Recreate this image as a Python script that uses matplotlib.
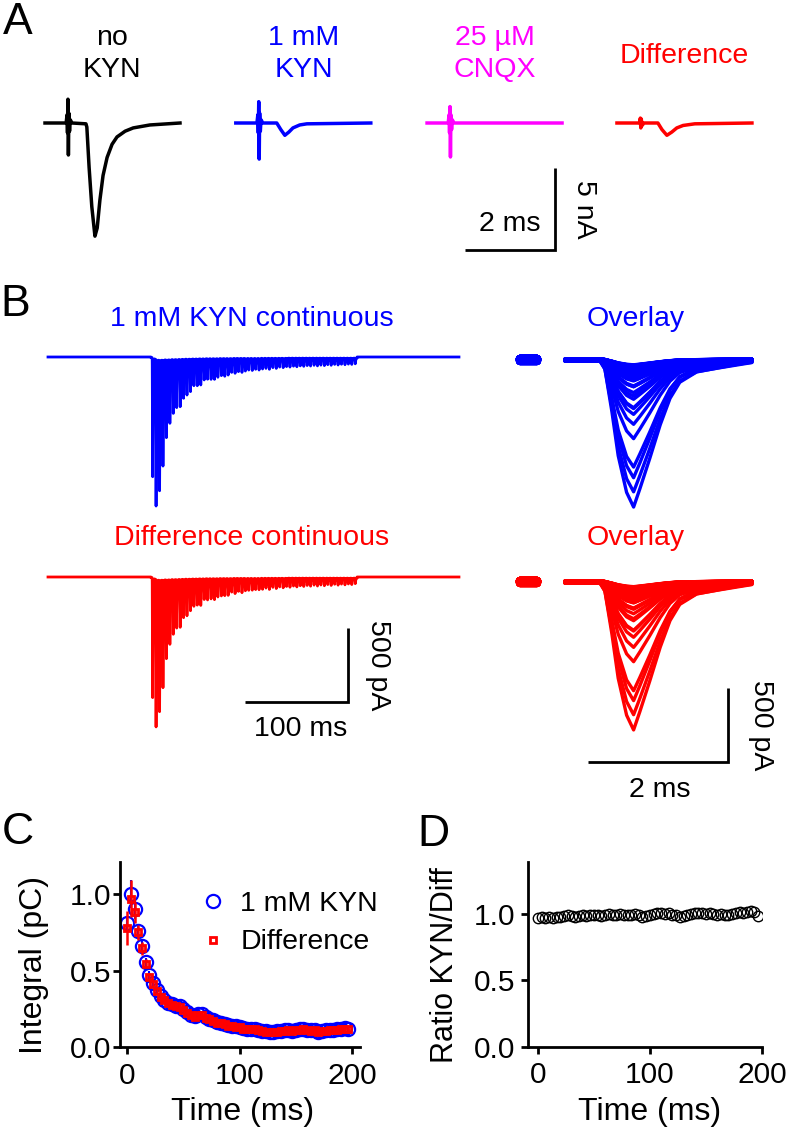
import numpy as np
import matplotlib
matplotlib.use('Agg')
import matplotlib.pyplot as plt
from matplotlib.lines import Line2D

plt.rcParams['font.family'] = ['Liberation Sans', 'DejaVu Sans']

W, H = 790, 1137
BLUE = '#0000ff'
RED = '#ff0000'
MAGENTA = '#ff00ff'

# ---------------------------------------------------------------
# Data
# ---------------------------------------------------------------

# A - single EPSCs, time from sweep start (ms), current (nA)
a_t_ctrl = [0.0, 0.47, 0.49, 0.5, 0.51, 0.52, 0.53, 0.545, 0.56, 0.6, 0.91, 0.93,
            0.98, 1.04, 1.11, 1.16, 1.22, 1.29, 1.38, 1.49, 1.6, 1.78, 1.96, 2.33, 3.0]
a_i_ctrl = [0.0, 0.0, 0.5, -0.6, 1.45, -1.95, 0.6, -0.5, 0.2, 0.0, -0.05, -0.25,
            -2.7, -5.1, -6.9, -6.4, -4.7, -3.2, -2.1, -1.3, -0.85, -0.5, -0.3, -0.12, 0.0]

a_t_kyn = [0.0, 0.47, 0.49, 0.5, 0.51, 0.52, 0.53, 0.545, 0.56, 0.6, 0.91, 1.0,
           1.09, 1.18, 1.27, 1.42, 1.58, 3.0]
a_i_kyn = [0.0, 0.0, 0.5, -0.6, 1.3, -2.2, 0.6, -0.5, 0.2, 0.0, 0.0, -0.4,
           -0.75, -0.55, -0.3, -0.12, -0.05, 0.0]

a_t_cnqx = [0.0, 0.47, 0.49, 0.5, 0.51, 0.52, 0.53, 0.545, 0.56, 0.6, 3.0]
a_i_cnqx = [0.0, 0.0, 0.5, -0.6, 1.0, -2.07, 0.5, -0.4, 0.2, 0.0, 0.0]

a_t_diff = [0.0, 0.5, 0.52, 0.53, 0.54, 0.56, 0.6, 0.91, 1.0, 1.11, 1.22, 1.33,
            1.47, 1.73, 3.0]
a_i_diff = [0.0, 0.0, 0.3, -0.3, 0.25, -0.15, 0.0, 0.0, -0.4, -0.75, -0.55, -0.3,
            -0.15, -0.05, 0.0]

a_titles = [['no', 'KYN'], ['1 mM', 'KYN'], ['25 \u00b5M', 'CNQX'], ['Difference']]
a_colors = ['black', BLUE, MAGENTA, RED]

# B - normalised EPSC waveform of the overlay (ms from end of blanked artifact)
pre_t = [-0.64, -0.40]
epsc_t = [0.0, 0.5, 0.57, 0.67, 0.76, 0.88, 0.98, 1.07, 1.21, 1.36, 1.5, 1.64,
          1.88, 2.21, 2.67]
epsc_shape = [0.0, 0.0, 0.06, 0.35, 0.65, 0.9, 1.0, 0.875, 0.67, 0.44, 0.26,
              0.15, 0.08, 0.05, 0.01]

# pulse times within the 300 Hz train (ms)
pulse_times_ms = [0.0, 3.3, 6.7, 10.0, 13.3, 16.7, 20.0, 23.3, 26.7, 30.0,
                  33.3, 36.7, 40.0, 43.3, 46.7, 50.0, 53.3, 56.7, 60.0, 63.3,
                  66.7, 70.0, 73.3, 76.7, 80.0, 83.3, 86.7, 90.0, 93.3, 96.7,
                  100.0, 103.3, 106.7, 110.0, 113.3, 116.7, 120.0, 123.3, 126.7, 130.0,
                  133.3, 136.7, 140.0, 143.3, 146.7, 150.0, 153.3, 156.7, 160.0, 163.3,
                  166.7, 170.0, 173.3, 176.7, 180.0, 183.3, 186.7, 190.0, 193.3, 196.7]

# EPSC peak amplitudes (pA) of each pulse
kyn_amp_pA = [809, 1007, 904, 737, 545, 448, 381, 342, 336, 279,
              257, 234, 194, 194, 189, 155, 150, 151, 151, 137,
              126, 130, 122, 104, 110, 99, 104, 95, 88, 91,
              83, 88, 81, 77, 83, 72, 77, 68, 72, 65,
              68, 62, 66, 60, 63, 58, 61, 56, 60, 55,
              58, 52, 56, 50, 54, 49, 52, 48, 50, 46]
diff_amp_pA = [815, 1013, 910, 748, 552, 455, 387, 345, 340, 275,
               262, 228, 198, 190, 192, 152, 155, 148, 153, 135,
               128, 126, 124, 102, 112, 97, 106, 93, 90, 89,
               85, 86, 83, 75, 84, 70, 78, 67, 73, 64,
               69, 61, 67, 59, 64, 57, 62, 55, 61, 54,
               59, 51, 57, 49, 55, 48, 53, 47, 51, 45]
# sustained inward current between pulses (pA)
tonic_pA = [5, 15, 22, 22, 20, 20, 18, 18, 17, 16,
            15, 15, 14, 14, 13, 13, 12, 12, 12, 12,
            11, 11, 11, 11, 10, 10, 10, 10, 10, 10,
            10, 10, 9, 9, 9, 9, 9, 9, 9, 9,
            8, 8, 8, 8, 8, 8, 8, 8, 8, 8,
            8, 8, 8, 8, 8, 8, 8, 8, 8, 8]

train_start_ms = 100.0
train_end_ms = 300.0
sweep_end_ms = 399.0

# C - charge integral per pulse (pC)
kyn_int = [0.81, 1.0, 0.90, 0.76, 0.66, 0.555, 0.47, 0.42, 0.37, 0.335,
           0.31, 0.29, 0.28, 0.27, 0.265, 0.25, 0.23, 0.21, 0.20, 0.215,
           0.215, 0.195, 0.18, 0.175, 0.165, 0.155, 0.15, 0.145, 0.14, 0.135,
           0.13, 0.125, 0.12, 0.12, 0.115, 0.11, 0.105, 0.105, 0.10, 0.10,
           0.105, 0.105, 0.11, 0.11, 0.105, 0.11, 0.115, 0.115, 0.11, 0.11,
           0.11, 0.10, 0.105, 0.11, 0.11, 0.11, 0.115, 0.115, 0.125, 0.115]
kyn_err = [0.04, 0.09, 0.06, 0.04, 0.035, 0.03, 0.025, 0.02, 0.02, 0.02,
           0.015, 0.015, 0.015, 0.015, 0.015, 0.012, 0.012, 0.012, 0.012, 0.012,
           0.01, 0.01, 0.01, 0.01, 0.01, 0.01, 0.01, 0.01, 0.01, 0.01,
           0.01, 0.01, 0.01, 0.01, 0.01, 0.01, 0.01, 0.01, 0.01, 0.01,
           0.01, 0.01, 0.01, 0.01, 0.01, 0.01, 0.01, 0.01, 0.01, 0.01,
           0.01, 0.01, 0.01, 0.01, 0.01, 0.01, 0.01, 0.01, 0.01, 0.01]
diff_int = [0.78, 0.97, 0.88, 0.75, 0.645, 0.545, 0.46, 0.41, 0.365, 0.33,
            0.305, 0.29, 0.275, 0.265, 0.26, 0.245, 0.225, 0.21, 0.195, 0.21,
            0.21, 0.19, 0.18, 0.17, 0.16, 0.155, 0.15, 0.14, 0.14, 0.13,
            0.13, 0.12, 0.12, 0.115, 0.115, 0.11, 0.105, 0.10, 0.10, 0.10,
            0.10, 0.105, 0.105, 0.11, 0.105, 0.11, 0.11, 0.115, 0.11, 0.105,
            0.11, 0.10, 0.105, 0.105, 0.11, 0.11, 0.11, 0.115, 0.12, 0.115]
diff_err = [0.11, 0.12, 0.07, 0.05, 0.04, 0.03, 0.025, 0.02, 0.02, 0.02,
            0.015, 0.015, 0.015, 0.015, 0.015, 0.012, 0.012, 0.012, 0.012, 0.012,
            0.01, 0.01, 0.01, 0.01, 0.01, 0.01, 0.01, 0.01, 0.01, 0.01,
            0.01, 0.01, 0.01, 0.01, 0.01, 0.01, 0.01, 0.01, 0.01, 0.01,
            0.01, 0.01, 0.01, 0.01, 0.01, 0.01, 0.01, 0.01, 0.01, 0.01,
            0.01, 0.01, 0.01, 0.01, 0.01, 0.01, 0.01, 0.01, 0.01, 0.01]

# D - ratio KYN / difference
ratio = [0.97, 0.975, 0.97, 0.975, 0.97, 0.975, 0.98, 0.985, 0.99, 0.985,
         0.98, 0.985, 0.99, 0.985, 0.99, 0.995, 0.99, 0.985, 0.995, 1.0,
         0.99, 0.995, 1.0, 0.995, 0.99, 0.995, 1.0, 0.99, 0.975, 0.985,
         0.995, 1.0, 1.01, 1.005, 1.0, 1.005, 0.995, 0.99, 0.98, 0.985,
         0.99, 1.0, 1.005, 1.01, 1.005, 1.0, 1.005, 1.0, 0.995, 1.0,
         0.995, 0.99, 1.0, 1.01, 1.015, 1.01, 1.015, 1.02, 1.015, 0.985]

# ---------------------------------------------------------------
# Helpers (layout in pixels of the 790x1137 canvas)
# ---------------------------------------------------------------
fig = plt.figure(figsize=(W / 100, H / 100), dpi=100)


def fx(x):
    return x / W


def fy(y):
    return 1 - y / H


def trace_axes(x0, y0, x1, y1, ox, oy, sx, sy):
    # pixel box, pixel position of data origin, pixels per data unit
    ax = fig.add_axes([fx(x0), fy(y1), (x1 - x0) / W, (y1 - y0) / H])
    ax.set_xlim((x0 - ox) / sx, (x1 - ox) / sx)
    ax.set_ylim((oy - y1) / sy, (oy - y0) / sy)
    ax.axis('off')
    return ax


def ftext(x, y, s, size=20, color='black', **kw):
    kw.setdefault('ha', 'center')
    kw.setdefault('va', 'center')
    fig.text(fx(x), fy(y), s, fontsize=size, color=color, **kw)


def scale_bar(ax, corner, dx, dy):
    cx, cy = corner
    ax.plot([cx - dx, cx, cx], [cy, cy, cy + dy], color='black', lw=2,
            solid_joinstyle='miter', solid_capstyle='butt', clip_on=False)


def sweep(amp, tonic):
    # one EPSC on top of the sustained current, peak reaching amp
    s = np.array(epsc_shape)
    return -(tonic * (1 - s) + amp * s)


def build_train(amps):
    t = [0.0, train_start_ms]
    y = [0.0, 0.0]
    for k in range(len(amps)):
        t0 = train_start_ms + pulse_times_ms[k] + 0.64
        t += [t0 + tt for tt in pre_t] + [t0 + tt for tt in epsc_t]
        y += [-tonic_pA[k]] * len(pre_t) + list(sweep(amps[k], tonic_pA[k]))
    t += [train_end_ms, sweep_end_ms]
    y += [0.0, 0.0]
    return t, y


# ---------------------------------------------------------------
# A
# ---------------------------------------------------------------
axA = trace_axes(0, 80, 790, 275, 0, 123, 45, 16.4)
a_traces = [(a_t_ctrl, a_i_ctrl), (a_t_kyn, a_i_kyn), (a_t_cnqx, a_i_cnqx), (a_t_diff, a_i_diff)]
a_offsets_ms = [1.0, 5.24, 9.49, 13.71]
for (t, i), off, c in zip(a_traces, a_offsets_ms, a_colors):
    axA.plot(np.array(t) + off, i, color=c, lw=2.5, solid_joinstyle='round')
scale_bar(axA, (12.33, -7.74), 2, 5)

a_title_x = [112, 304, 495, 684]
for x, lines, c in zip(a_title_x, a_titles, a_colors):
    if len(lines) == 2:
        ftext(x, 45, lines[0], size=20.5, color=c, va='baseline')
        ftext(x, 77, lines[1], size=20.5, color=c, va='baseline')
    else:
        ftext(x, 63, lines[0], size=20.5, color=c, va='baseline')
ftext(510, 224, '2 ms', size=20.5)
ftext(584, 209, '5 nA', size=20.5, rotation=270)

# ---------------------------------------------------------------
# B
# ---------------------------------------------------------------
rows = [(kyn_amp_pA, BLUE, 335, 525, 357, 358, '1 mM KYN continuous', 326),
        (diff_amp_pA, RED, 555, 760, 577, 580, 'Difference continuous', 545)]
ax_tr = []
ax_ov = []
for amps, c, y0, y1, base_tr, base_ov, title, ty in rows:
    ax = trace_axes(40, y0, 470, y1, 48, base_tr, 1.03, 0.148)
    tt, yy = build_train(amps)
    ax.plot(tt, yy, color=c, lw=2.0)
    ax_tr.append(ax)

    ax2 = trace_axes(500, y0, 775, y1 + 50, 565, base_ov, 70, 0.148)
    for k in range(len(amps)):
        ax2.plot(pre_t, [-tonic_pA[k]] * len(pre_t), color=c, lw=6,
                 solid_capstyle='round')
        ax2.plot(epsc_t, sweep(amps[k], tonic_pA[k]), color=c, lw=2.4,
                 solid_joinstyle='round', solid_capstyle='round')
    ax_ov.append(ax2)

    ftext(252, ty, title, size=20.5, color=c, va='baseline')
    ftext(636, ty, 'Overlay', size=20.5, color=c, va='baseline')

scale_bar(ax_tr[1], (291.3, -844.6), 100, 500)
ftext(301, 729, '100 ms', size=20.5)
ftext(378, 665, '500 pA', size=20.5, rotation=270)

scale_bar(ax_ov[1], (2.329, -1229.7), 2, 500)
ftext(660, 790, '2 ms', size=20.5)
ftext(761, 725, '500 pA', size=20.5, rotation=270)

# ---------------------------------------------------------------
# C and D
# ---------------------------------------------------------------


def style_axes(ax, xpad, ypad):
    for s in ['top', 'right']:
        ax.spines[s].set_visible(False)
    for s in ['left', 'bottom']:
        ax.spines[s].set_linewidth(2)
    ax.tick_params(direction='out', length=5, width=2, labelsize=21.5)
    ax.tick_params(axis='x', pad=xpad)
    ax.tick_params(axis='y', pad=ypad)
    ax.set_xticks([0, 100, 200])
    ax.set_yticks([0.0, 0.5, 1.0])
    ax.set_yticklabels(['0.0', '0.5', '1.0'])


axC = fig.add_axes([fx(120), fy(1047), 240 / W, 185 / H])
axC.errorbar(pulse_times_ms, kyn_int, yerr=kyn_err, fmt='o', ms=9.5, mfc='none',
             mec=BLUE, mew=1.6, ecolor=BLUE, elinewidth=1.5, capsize=0, zorder=2)
axC.errorbar(pulse_times_ms, diff_int, yerr=diff_err, fmt='s', ms=5, mfc='none',
             mec=RED, mew=2.0, ecolor=RED, elinewidth=1.8, capsize=0, zorder=3)
axC.set_xlim(-6.2, 207)
axC.set_ylim(0, 1.21)
style_axes(axC, 6, 1.5)
handles = [Line2D([], [], ls='none', marker='o', ms=9.5, mfc='none', mec=BLUE, mew=1.6),
           Line2D([], [], ls='none', marker='s', ms=5, mfc='none', mec=RED, mew=2.0)]
axC.legend(handles, ['1 mM KYN', 'Difference'], loc='upper left',
           bbox_to_anchor=(0.33, 0.845), frameon=False, fontsize=20.5,
           handlelength=1.0, handletextpad=0.45, labelspacing=0.45,
           borderpad=0, borderaxespad=0)

axD = fig.add_axes([fx(528), fy(1047), 234 / W, 185 / H])
axD.plot(pulse_times_ms, ratio, ls='none', marker='o', ms=7.5, mfc='none',
         mec='black', mew=1.0)
axD.set_xlim(-8.9, 200)
axD.set_ylim(0, 1.39)
style_axes(axD, 5, 4)

ftext(34, 965, 'Integral (pC)', size=23, rotation=90)
ftext(243, 1112, 'Time (ms)', size=23)
ftext(445, 965, 'Ratio KYN/Diff', size=22, rotation=90)
ftext(650, 1112, 'Time (ms)', size=23)

# panel letters
for x, y, s in [(18, 22, 'A'), (15, 305, 'B'), (18, 832, 'C'), (433, 835, 'D')]:
    ftext(x, y, s, size=32)

fig.savefig('out.png', dpi=100)
